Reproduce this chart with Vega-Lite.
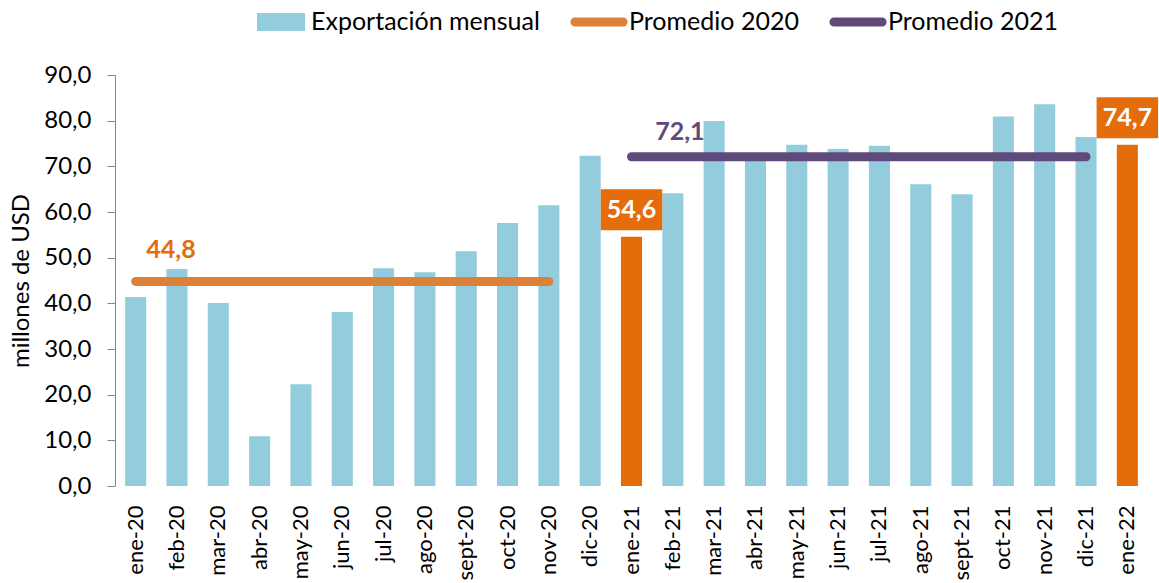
{
  "$schema": "https://vega.github.io/schema/vega-lite/v6.json",
  "width": 1033,
  "height": 411,
  "autosize": {"type": "none"},
  "padding": {"left": 115, "top": 75, "right": 11, "bottom": 97},
  "background": "white",
  "config": {"view": {"stroke": null}, "font": "Lato"},
  "datasets": {
    "meses": [
      {"mes": "ene-20", "valor": 41.4, "destacado": false},
      {"mes": "feb-20", "valor": 47.5, "destacado": false},
      {"mes": "mar-20", "valor": 40.1, "destacado": false},
      {"mes": "abr-20", "valor": 10.9, "destacado": false},
      {"mes": "may-20", "valor": 22.3, "destacado": false},
      {"mes": "jun-20", "valor": 38.1, "destacado": false},
      {"mes": "jul-20", "valor": 47.7, "destacado": false},
      {"mes": "ago-20", "valor": 46.8, "destacado": false},
      {"mes": "sept-20", "valor": 51.4, "destacado": false},
      {"mes": "oct-20", "valor": 57.6, "destacado": false},
      {"mes": "nov-20", "valor": 61.5, "destacado": false},
      {"mes": "dic-20", "valor": 72.3, "destacado": false},
      {"mes": "ene-21", "valor": 54.6, "destacado": true, "etiqueta": "54,6"},
      {"mes": "feb-21", "valor": 64.1, "destacado": false},
      {"mes": "mar-21", "valor": 79.9, "destacado": false},
      {"mes": "abr-21", "valor": 71.5, "destacado": false},
      {"mes": "may-21", "valor": 74.7, "destacado": false},
      {"mes": "jun-21", "valor": 73.8, "destacado": false},
      {"mes": "jul-21", "valor": 74.5, "destacado": false},
      {"mes": "ago-21", "valor": 66.1, "destacado": false},
      {"mes": "sept-21", "valor": 63.9, "destacado": false},
      {"mes": "oct-21", "valor": 80.9, "destacado": false},
      {"mes": "nov-21", "valor": 83.6, "destacado": false},
      {"mes": "dic-21", "valor": 76.4, "destacado": false},
      {"mes": "ene-22", "valor": 74.7, "destacado": true, "etiqueta": "74,7"}
    ],
    "promedios": [
      {"mes": "ene-20", "valor": 44.8, "serie": "Promedio 2020"},
      {"mes": "feb-20", "valor": 44.8, "serie": "Promedio 2020"},
      {"mes": "mar-20", "valor": 44.8, "serie": "Promedio 2020"},
      {"mes": "abr-20", "valor": 44.8, "serie": "Promedio 2020"},
      {"mes": "may-20", "valor": 44.8, "serie": "Promedio 2020"},
      {"mes": "jun-20", "valor": 44.8, "serie": "Promedio 2020"},
      {"mes": "jul-20", "valor": 44.8, "serie": "Promedio 2020"},
      {"mes": "ago-20", "valor": 44.8, "serie": "Promedio 2020"},
      {"mes": "sept-20", "valor": 44.8, "serie": "Promedio 2020"},
      {"mes": "oct-20", "valor": 44.8, "serie": "Promedio 2020"},
      {"mes": "nov-20", "valor": 44.8, "serie": "Promedio 2020"},
      {"mes": "ene-21", "valor": 72.1, "serie": "Promedio 2021"},
      {"mes": "feb-21", "valor": 72.1, "serie": "Promedio 2021"},
      {"mes": "mar-21", "valor": 72.1, "serie": "Promedio 2021"},
      {"mes": "abr-21", "valor": 72.1, "serie": "Promedio 2021"},
      {"mes": "may-21", "valor": 72.1, "serie": "Promedio 2021"},
      {"mes": "jun-21", "valor": 72.1, "serie": "Promedio 2021"},
      {"mes": "jul-21", "valor": 72.1, "serie": "Promedio 2021"},
      {"mes": "ago-21", "valor": 72.1, "serie": "Promedio 2021"},
      {"mes": "sept-21", "valor": 72.1, "serie": "Promedio 2021"},
      {"mes": "oct-21", "valor": 72.1, "serie": "Promedio 2021"},
      {"mes": "nov-21", "valor": 72.1, "serie": "Promedio 2021"},
      {"mes": "dic-21", "valor": 72.1, "serie": "Promedio 2021"}
    ],
    "etiquetasProm": [
      {"mes": "feb-20", "valor": 44.8, "etiqueta": "44,8", "serie": "Promedio 2020"},
      {"mes": "feb-21", "valor": 72.1, "etiqueta": "72,1", "serie": "Promedio 2021"}
    ]
  },
  "encoding": {
    "x": {
      "field": "mes",
      "type": "ordinal",
      "sort": null,
      "scale": {
        "domain": ["ene-20","feb-20","mar-20","abr-20","may-20","jun-20","jul-20","ago-20","sept-20","oct-20","nov-20","dic-20","ene-21","feb-21","mar-21","abr-21","may-21","jun-21","jul-21","ago-21","sept-21","oct-21","nov-21","dic-21","ene-22"],
        "paddingInner": 0.49,
        "paddingOuter": 0.245
      },
      "axis": {
        "title": null,
        "labelAngle": -90,
        "labelFontSize": 22,
        "labelPadding": 19,
        "ticks": false,
        "domain": false,
        "labelColor": "#000000"
      }
    },
    "y": {
      "field": "valor",
      "type": "quantitative",
      "scale": {"domain": [0, 90]},
      "axis": {
        "values": [0, 10, 20, 30, 40, 50, 60, 70, 80, 90],
        "labelExpr": "replace(format(datum.value, '.1f'), '.', ',')",
        "grid": false,
        "domainColor": "#868686",
        "tickColor": "#868686",
        "tickSize": 8,
        "labelFontSize": 24,
        "labelPadding": 16,
        "labelColor": "#000000",
        "title": "millones de USD",
        "titleFontSize": 24,
        "titleFontWeight": "normal",
        "titleColor": "#000000",
        "titlePadding": 10
      }
    }
  },
  "layer": [
    {
      "data": {"name": "meses"},
      "transform": [{"filter": "!datum.destacado"}],
      "mark": {"type": "bar"},
      "encoding": {
        "color": {
          "datum": "Exportación mensual",
          "scale": {
            "domain": ["Exportación mensual", "Promedio 2020", "Promedio 2021"],
            "range": ["#93CDDD", "#DD8038", "#604A7B"]
          },
          "legend": {
            "orient": "none",
            "legendX": 142,
            "legendY": -77,
            "direction": "horizontal",
            "title": null,
            "labelFontSize": 25,
            "labelColor": "#000000",
            "labelLimit": 500,
            "symbolSize": 2304,
            "labelOffset": 6,
            "columnPadding": 30,
            "encode": {
              "symbols": {
                "update": {
                  "shape": {"signal": "datum.value === 'Exportación mensual' ? 'M-1,-0.375H1V0.375H-1Z' : 'M-1,-0.19H1A0.19,0.19 0 0 1 1,0.19H-1A0.19,0.19 0 0 1 -1,-0.19Z'"},
                  "fill": {"scale": "color", "field": "value"},
                  "strokeWidth": {"value": 0},
                  "opacity": {"value": 1}
                }
              }
            }
          }
        }
      }
    },
    {
      "data": {"name": "meses"},
      "transform": [{"filter": "datum.destacado"}],
      "mark": {"type": "bar", "color": "#E46C0A"},
      "encoding": {}
    },
    {
      "data": {"name": "promedios"},
      "mark": {"type": "line", "strokeWidth": 9, "strokeCap": "round"},
      "encoding": {
        "x": {"field": "mes", "type": "ordinal", "sort": null, "bandPosition": 0.5},
        "color": {"field": "serie", "type": "nominal", "legend": null},
        "detail": {"field": "serie"}
      }
    },
    {
      "data": {"name": "etiquetasProm"},
      "transform": [{"filter": "datum.serie === 'Promedio 2020'"}],
      "mark": {"type": "text", "color": "#E46C0A", "fontSize": 25, "fontWeight": "bold", "baseline": "middle", "yOffset": -31, "xOffset": -6},
      "encoding": {
        "x": {"field": "mes", "type": "ordinal", "sort": null, "bandPosition": 0.5},
        "text": {"field": "etiqueta"}
      }
    },
    {
      "data": {"name": "etiquetasProm"},
      "transform": [{"filter": "datum.serie === 'Promedio 2021'"}],
      "mark": {"type": "text", "color": "#604A7B", "fontSize": 25, "fontWeight": "bold", "baseline": "middle", "yOffset": -25, "xOffset": 7},
      "encoding": {
        "x": {"field": "mes", "type": "ordinal", "sort": null, "bandPosition": 0.5},
        "text": {"field": "etiqueta"}
      }
    },
    {
      "data": {"name": "meses"},
      "transform": [{"filter": "datum.destacado"}],
      "mark": {"type": "point", "shape": "M-1.5,-1H1.5V1H-1.5Z", "size": 1681, "filled": true, "color": "#E46C0A", "opacity": 1, "yOffset": -27},
      "encoding": {
        "x": {"field": "mes", "type": "ordinal", "sort": null, "bandPosition": 0.5}
      }
    },
    {
      "data": {"name": "meses"},
      "transform": [{"filter": "datum.destacado"}],
      "mark": {"type": "text", "color": "#FFFFFF", "fontSize": 25, "fontWeight": "bold", "baseline": "middle", "yOffset": -27},
      "encoding": {
        "x": {"field": "mes", "type": "ordinal", "sort": null, "bandPosition": 0.5},
        "text": {"field": "etiqueta"}
      }
    }
  ]
}
